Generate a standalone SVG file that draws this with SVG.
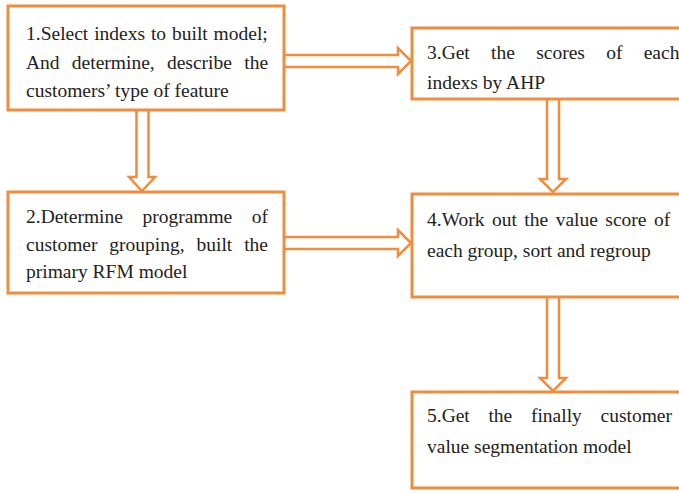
<svg xmlns="http://www.w3.org/2000/svg" width="679" height="494" viewBox="0 0 679 494">
  <style>
    .box { fill: #ffffff; stroke: #F08C3C; stroke-width: 3; }
    .arr { fill: #ffffff; stroke: #F08C3C; stroke-width: 2.5; stroke-linejoin: miter; }
    .t { font-family: "Liberation Serif", "Times New Roman", serif; font-size: 19.5px; fill: #222222; }
  </style>
  <rect width="679" height="494" fill="#ffffff"/>
  <g id="connectors">
    <path class="arr" d="M136.5,110 V177 H129 L142,191 L155,177 H148.5 V110"/>
    <path class="arr" d="M284,55 H398 V48 L411,61 L398,74 V67 H284"/>
    <path class="arr" d="M547,99 V179 H540 L553,192 L566,179 H559 V99"/>
    <path class="arr" d="M284,237 H398 V230 L411,243 L398,256 V249 H284"/>
    <path class="arr" d="M547,297 V378 H540 L553,391 L566,378 H559 V297"/>
  </g>
  <g id="node1">
    <rect class="box" x="8" y="6" width="276" height="104"/>
    <text class="t" x="26" y="40" word-spacing="1">1.Select indexs to built model;</text>
    <text class="t" x="26" y="68.5" word-spacing="7.4">And determine, describe the</text>
    <text class="t" x="26" y="97">customers’ type of feature</text>
  </g>
  <g id="node2">
    <rect class="box" x="8" y="192" width="276" height="101"/>
    <text class="t" x="26" y="223" word-spacing="14.6">2.Determine programme of</text>
    <text class="t" x="26" y="251" word-spacing="7">customer grouping, built the</text>
    <text class="t" x="26" y="278">primary RFM model</text>
  </g>
  <g id="node3">
    <rect class="box" x="412" y="28" width="280" height="71"/>
    <text class="t" x="427" y="59" word-spacing="16.4">3.Get the scores of each</text>
    <text class="t" x="427" y="89">indexs by AHP</text>
  </g>
  <g id="node4">
    <rect class="box" x="412" y="194" width="280" height="103"/>
    <text class="t" x="427" y="226" word-spacing="2.6">4.Work out the value score of</text>
    <text class="t" x="427" y="257">each group, sort and regroup</text>
  </g>
  <g id="node5">
    <rect class="box" x="412" y="392" width="280" height="96"/>
    <text class="t" x="427" y="422" word-spacing="13.8">5.Get the finally customer</text>
    <text class="t" x="427" y="453">value segmentation model</text>
  </g>
</svg>
